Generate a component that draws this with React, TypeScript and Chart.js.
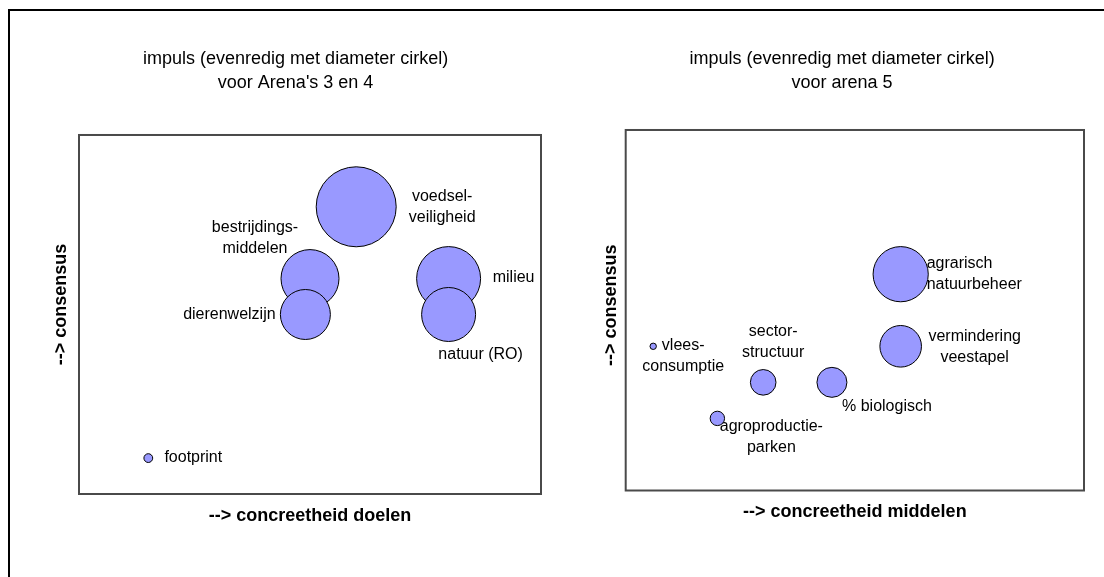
import React, { useEffect, useRef } from 'react';
import { Chart, registerables } from 'chart.js';

Chart.register(...registerables);

const FONT = '"Liberation Sans", Arial, Helvetica, sans-serif';

// ---- Arena's 3 en 4 ----
const leftTitle = ['impuls (evenredig met diameter cirkel)', "voor Arena's 3 en 4"];
const leftXTitle = '--> concreetheid doelen';
const leftNames = ['voedsel-\nveiligheid', 'bestrijdings-\nmiddelen', 'dierenwelzijn', 'milieu', 'natuur (RO)', 'footprint'];
const leftConcreetheid = [6, 5, 4.9, 8, 8, 1.5];
const leftConsensus = [8, 6, 5, 6, 5, 1];
const leftImpuls = [10, 7.25, 6.25, 8, 6.75, 1.1];

// ---- arena 5 ----
const rightTitle = ['impuls (evenredig met diameter cirkel)', 'voor arena 5'];
const rightXTitle = '--> concreetheid middelen';
const rightNames = ['agrarisch\nnatuurbeheer', 'vermindering\nveestapel', 'vlees-\nconsumptie', 'sector-\nstructuur', '% biologisch', 'agroproductie-\nparken'];
const rightConcreetheid = [6, 6, 0.6, 3, 4.5, 2];
const rightConsensus = [6, 4, 4, 3, 3, 2];
const rightImpuls = [6.9, 5.2, 0.8, 3.2, 3.75, 1.8];

const yTitle = '--> consensus';

// label placement (layout only): [dx, dy, align]
const leftLabelPlacement: [number, number, CanvasTextAlign][] = [
  [86, 0, 'center'], [-55, -40, 'center'], [-76, 0, 'center'], [65, -1, 'center'], [32, 40, 'center'], [45, -1, 'center'],
];
const rightLabelPlacement: [number, number, CanvasTextAlign][] = [
  [26, 0, 'left'], [74, 1, 'center'], [30, 10, 'center'], [10, -40, 'center'], [55, 24, 'center'], [54, 19, 'center'],
];

const PX_PER_IMPULS = 4;

const framePlugin = {
  id: 'frameAndLabels',
  beforeDatasetsDraw(chart: any, _args: any, opts: any) {
    const ctx = chart.ctx;
    const meta = chart.getDatasetMeta(0);
    ctx.save();
    ctx.font = '16px ' + FONT;
    ctx.fillStyle = '#000';
    ctx.textBaseline = 'middle';
    meta.data.forEach((el: any, i: number) => {
      const lines = String(opts.names[i]).split('\n');
      const [dx, dy, align] = opts.placement[i];
      ctx.textAlign = align;
      const lh = 21;
      const y0 = el.y + dy - ((lines.length - 1) * lh) / 2;
      lines.forEach((ln: string, j: number) => ctx.fillText(ln, el.x + dx, y0 + j * lh));
    });
    ctx.restore();
  },
  afterDraw(chart: any) {
    const { ctx, chartArea } = chart;
    ctx.save();
    ctx.strokeStyle = '#4a4a4a';
    ctx.lineWidth = 2;
    ctx.strokeRect(chartArea.left, chartArea.top, chartArea.right - chartArea.left, chartArea.bottom - chartArea.top);
    ctx.restore();
  },
};

type PanelProps = {
  left: number; top: number; width: number; height: number;
  title: string[]; xTitle: string; names: string[];
  xs: number[]; ys: number[]; impuls: number[];
  placement: [number, number, CanvasTextAlign][];
  pad: { left: number; right: number; bottom: number };
  titlePad: { top: number; bottom: number };
  xTitlePadTop: number; yTitlePadBottom: number; yTitleLead: number;
};

function BubblePanel(p: PanelProps) {
  const ref = useRef<HTMLCanvasElement | null>(null);
  useEffect(() => {
    const chart = new Chart(ref.current as HTMLCanvasElement, {
      type: 'bubble',
      data: {
        datasets: [{
          data: p.xs.map((x, i) => ({ x, y: p.ys[i], r: p.impuls[i] * PX_PER_IMPULS })),
          backgroundColor: '#9999FF',
          borderColor: '#000000',
          borderWidth: 1,
          hoverRadius: 0,
          clip: false as any,
        }],
      },
      options: {
        responsive: false,
        animation: false,
        events: [],
        layout: { autoPadding: false, padding: { left: p.pad.left, right: p.pad.right, top: 0, bottom: p.pad.bottom } },
        plugins: {
          legend: { display: false },
          tooltip: { enabled: false },
          title: {
            display: true,
            text: p.title,
            color: '#000',
            font: { family: FONT, size: 18, weight: 'normal', lineHeight: 1.333 },
            padding: { top: p.titlePad.top, bottom: p.titlePad.bottom },
          },
          frameAndLabels: { names: p.names, placement: p.placement },
        } as any,
        scales: {
          x: {
            type: 'linear', min: 0, max: 10,
            ticks: { display: false },
            grid: { display: false, drawTicks: false },
            border: { display: false },
            title: {
              display: true, text: p.xTitle, color: '#000',
              font: { family: FONT, size: 18, weight: 'bold', lineHeight: 1.2 },
              padding: { top: p.xTitlePadTop, bottom: 0 },
            },
          },
          y: {
            type: 'linear', min: 0, max: 10,
            ticks: { display: false },
            grid: { display: false, drawTicks: false },
            border: { display: false },
            title: {
              display: true, text: '\u00A0'.repeat(p.yTitleLead) + yTitle, color: '#000',
              font: { family: FONT, size: 18, weight: 'bold', lineHeight: 1.2 },
              padding: { top: 0, bottom: p.yTitlePadBottom },
            },
          },
        },
      } as any,
      plugins: [framePlugin as any],
    });
    return () => chart.destroy();
  }, []);
  return (
    <canvas
      ref={ref}
      width={p.width}
      height={p.height}
      style={{ position: 'absolute', left: p.left, top: p.top, width: p.width, height: p.height }}
    />
  );
}

export default function App() {
  return (
    <div style={{ position: 'absolute', left: 0, top: 0, width: 1104, height: 577, background: '#fff', overflow: 'hidden' }}>
      <div style={{ position: 'absolute', left: 8, top: 9, width: 1096, height: 2, background: '#000' }} />
      <div style={{ position: 'absolute', left: 8, top: 9, width: 2, height: 568, background: '#000' }} />
      <BubblePanel
        left={10} top={11} width={578} height={566}
        title={leftTitle} xTitle={leftXTitle} names={leftNames}
        xs={leftConcreetheid} ys={leftConsensus} impuls={leftImpuls}
        placement={leftLabelPlacement}
        pad={{ left: 40.2, right: 47, bottom: 50.2 }}
        titlePad={{ top: 36, bottom: 40 }}
        xTitlePadTop={11.2} yTitlePadBottom={7.2} yTitleLead={4}
      />
      <BubblePanel
        left={590} top={11} width={511} height={566}
        title={rightTitle} xTitle={rightXTitle} names={rightNames}
        xs={rightConcreetheid} ys={rightConsensus} impuls={rightImpuls}
        placement={rightLabelPlacement}
        pad={{ left: 10.2, right: 17, bottom: 54.5 }}
        titlePad={{ top: 36, bottom: 35 }}
        xTitlePadTop={10.4} yTitlePadBottom={3.9} yTitleLead={2}
      />
    </div>
  );
}
